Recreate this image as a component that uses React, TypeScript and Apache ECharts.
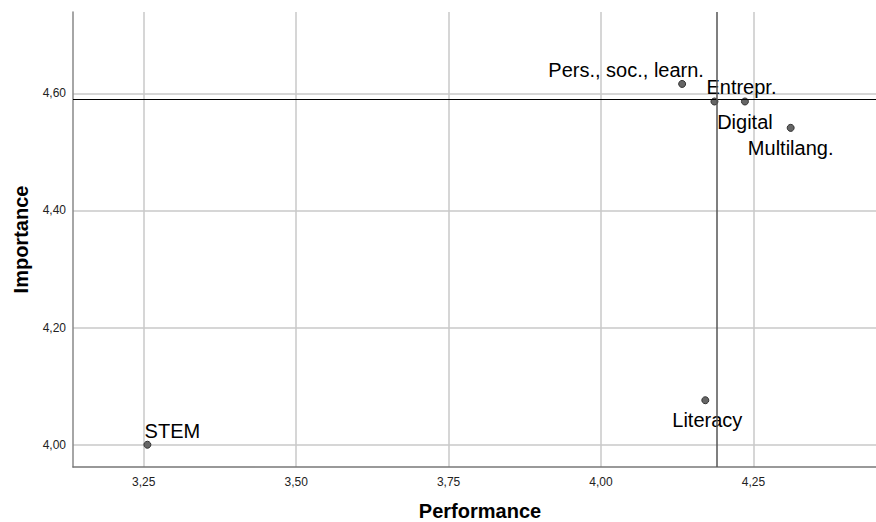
import React, { useEffect, useRef } from "react";
import * as echarts from "echarts";

const names = ["STEM", "Literacy", "Pers., soc., learn.", "Entrepr.", "Digital", "Multilang."];
const performance = [3.256, 4.171, 4.133, 4.186, 4.236, 4.311];
const importance = [4.0, 4.076, 4.616, 4.586, 4.586, 4.541];
const labelOffsets: [number, number][] = [[25, -14], [2, 20], [-56, -14], [27, -15], [0, 20], [0, 20]];
const xTicks = [3.25, 3.5, 3.75, 4.0, 4.25];
const yTicks = [4.0, 4.2, 4.4, 4.6];
const refPerformance = 4.186;
const refImportance = 4.586;

const fmt = (v: number) => v.toFixed(2).replace(".", ",");

export default function App() {
  const ref = useRef<HTMLDivElement>(null);
  useEffect(() => {
    if (!ref.current) return;
    const chart = echarts.init(ref.current, undefined, { renderer: "svg", width: 876, height: 522 });
    const font = "'Liberation Sans', Arial, sans-serif";
    chart.setOption({
      animation: false,
      backgroundColor: "#ffffff",
      textStyle: { fontFamily: font },
      grid: { left: 73, top: 12, right: -11, bottom: 55, containLabel: false, outerBoundsMode: "none" },
      xAxis: {
        type: "value",
        min: 3.134,
        max: 4.469,
        name: "Performance",
        nameLocation: "middle",
        nameGap: 34,
        nameTextStyle: { fontSize: 20, fontWeight: "bold", color: "#000", fontFamily: font },
        axisLine: { show: true, lineStyle: { color: "#777", width: 1.5 } },
        axisTick: { show: false, customValues: xTicks },
        axisLabel: { customValues: xTicks, formatter: (v: number) => fmt(v), fontSize: 12, color: "#222", margin: 9, fontFamily: font },
        splitLine: { show: true, lineStyle: { color: "#c8c8c8", width: 1.5 } },
      },
      yAxis: {
        type: "value",
        min: 3.962,
        max: 4.7388,
        name: "Importance",
        nameLocation: "middle",
        nameGap: 42,
        nameTextStyle: { fontSize: 20, fontWeight: "bold", color: "#000", fontFamily: font },
        axisLine: { show: true, lineStyle: { color: "#888", width: 1.5 } },
        axisTick: { show: false, customValues: yTicks },
        axisLabel: { customValues: yTicks, formatter: (v: number) => fmt(v), fontSize: 12, color: "#222", margin: 7, fontFamily: font },
        splitLine: { show: true, lineStyle: { color: "#c8c8c8", width: 1.5 } },
      },
      series: [
        {
          type: "scatter",
          symbol: "circle",
          symbolSize: 7,
          itemStyle: { color: "#666", borderColor: "#333", borderWidth: 1, opacity: 1 },
          data: names.map((n, i) => ({
            name: n,
            value: [performance[i], importance[i]],
            label: {
              show: true,
              formatter: n,
              position: "inside",
              offset: labelOffsets[i],
              fontSize: 20,
              color: "#000",
              fontFamily: font,
            },
          })),
          markLine: {
            silent: true,
            symbol: "none",
            label: { show: false },
            data: [
              { yAxis: refImportance, lineStyle: { color: "#000", width: 1, type: "solid" } },
              { xAxis: refPerformance, lineStyle: { color: "#555", width: 1.5, type: "solid" } },
            ],
          },
          z: 3,
        },
      ],
    });
    return () => chart.dispose();
  }, []);
  return <div ref={ref} style={{ position: "fixed", left: 0, top: 0, width: 876, height: 522 }} />;
}
